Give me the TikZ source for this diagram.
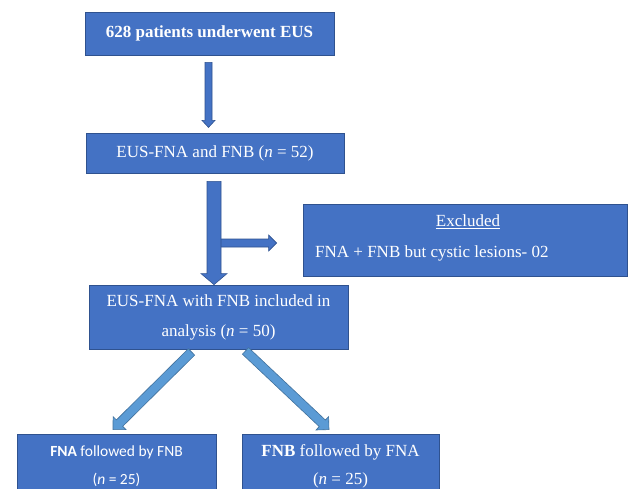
\documentclass[tikz,border=0pt]{standalone}
\usepackage{fontspec}
\setmainfont{Liberation Serif}
\newfontfamily\calibrif{Carlito}
\usetikzlibrary{calc}
\definecolor{boxblue}{HTML}{4472C4}
\definecolor{boxedge}{HTML}{2F528F}
\definecolor{lightarrow}{HTML}{5B9BD5}
\definecolor{lightedge}{HTML}{41719C}
% block arrow: start, end, half shaft, half head, head length, style
\newcommand\blkarrow[6]{%
  \coordinate (blkH) at ($(#2)!#5!(#1)$);
  \path[#6] ($(#1)!#3!90:(#2)$) -- ($(blkH)!#3!90:(#2)$) -- ($(blkH)!#4!90:(#2)$)
    -- (#2) -- ($(blkH)!#4!-90:(#2)$) -- ($(blkH)!#3!-90:(#2)$)
    -- ($(#1)!#3!-90:(#2)$) -- cycle;
}
\tikzset{
  flowbox/.style={draw=boxedge, fill=boxblue, line width=0.8pt, text=white,
    inner sep=0pt, align=center, font=\fontsize{17}{30}\selectfont},
  darkarrow/.style={draw=boxedge, fill=boxblue, line width=0.6pt, line join=miter},
  lightarr/.style={draw=lightedge, fill=lightarrow, line width=0.6pt, line join=miter},
}
\begin{document}
\begin{tikzpicture}[x=1pt, y=-1pt]
\useasboundingbox (0,0) rectangle (628,488);
\fill[white] (0,0) rectangle (628,488);
\clip (0,0) rectangle (628,488);

% boxes
\node[flowbox, minimum width=249pt, minimum height=43pt] (b1) at (209.5,33.5)
  {\textbf{628 patients underwent EUS}};
\node[flowbox, minimum width=258pt, minimum height=40pt] (b2) at (215,153)
  {EUS-FNA and FNB (\textit{n} = 52)};
\node[flowbox, minimum width=259pt, minimum height=64pt] (b3) at (218.5,317)
  {EUS-FNA with FNB included in\\ analysis (\textit{n} = 50)};
\node[flowbox, minimum width=324pt, minimum height=72pt] (excl) at (465,240) {};
\node[text=white, inner sep=0pt, font=\fontsize{17}{20}\selectfont] (exhead) at (468,222)
  {\underline{Excluded}};
\node[text=white, inner sep=0pt, anchor=west, font=\fontsize{17}{20}\selectfont] (exbody) at (315,253)
  {FNA + FNB but cystic lesions- 02};
\node[flowbox, minimum width=199pt, minimum height=64pt, font=\calibrif\fontsize{15.5}{28}\selectfont] (bl) at (116.5,466)
  {\textbf{FNA} followed by FNB\\ (\textit{n} = 25)};
\node[flowbox, minimum width=197pt, minimum height=64pt, font=\fontsize{17}{28}\selectfont] (br) at (340.5,466)
  {\textbf{FNB} followed by FNA\\ (\textit{n} = 25)};

% connector end points
\coordinate (a1s) at ($(b1.south)+(-1,7)$);
\coordinate (a1e) at ($(b1.south)+(-1,72)$);
\coordinate (a2s) at ($(b2.south)+(-1,8)$);
\coordinate (a2e) at (a2s |- b3.north);
\coordinate (a3e) at ($(excl.west)+(-26,3)$);
\coordinate (a3s) at ($(a2s |- a3e)+(6.5,0)$);
\coordinate (a4s) at ($(b3.south)+(-27,2.5)$);
\coordinate (a4e) at ($(bl.north)+(-3.5,-4)$);
\coordinate (a5s) at ($(b3.south)+(27,1.5)$);
\coordinate (a5e) at ($(br.north)+(-11.5,-4)$);

% connectors
\blkarrow{a1s}{a1e}{3.5pt}{6.5pt}{7pt}{darkarrow}
\blkarrow{a3s}{a3e}{4pt}{8pt}{8pt}{darkarrow}
\blkarrow{a2s}{a2e}{7pt}{13pt}{11pt}{darkarrow}
\blkarrow{a4s}{a4e}{4.5pt}{9.2pt}{9.2pt}{lightarr}
\blkarrow{a5s}{a5e}{4.5pt}{9.2pt}{9.2pt}{lightarr}
\end{tikzpicture}
\end{document}
